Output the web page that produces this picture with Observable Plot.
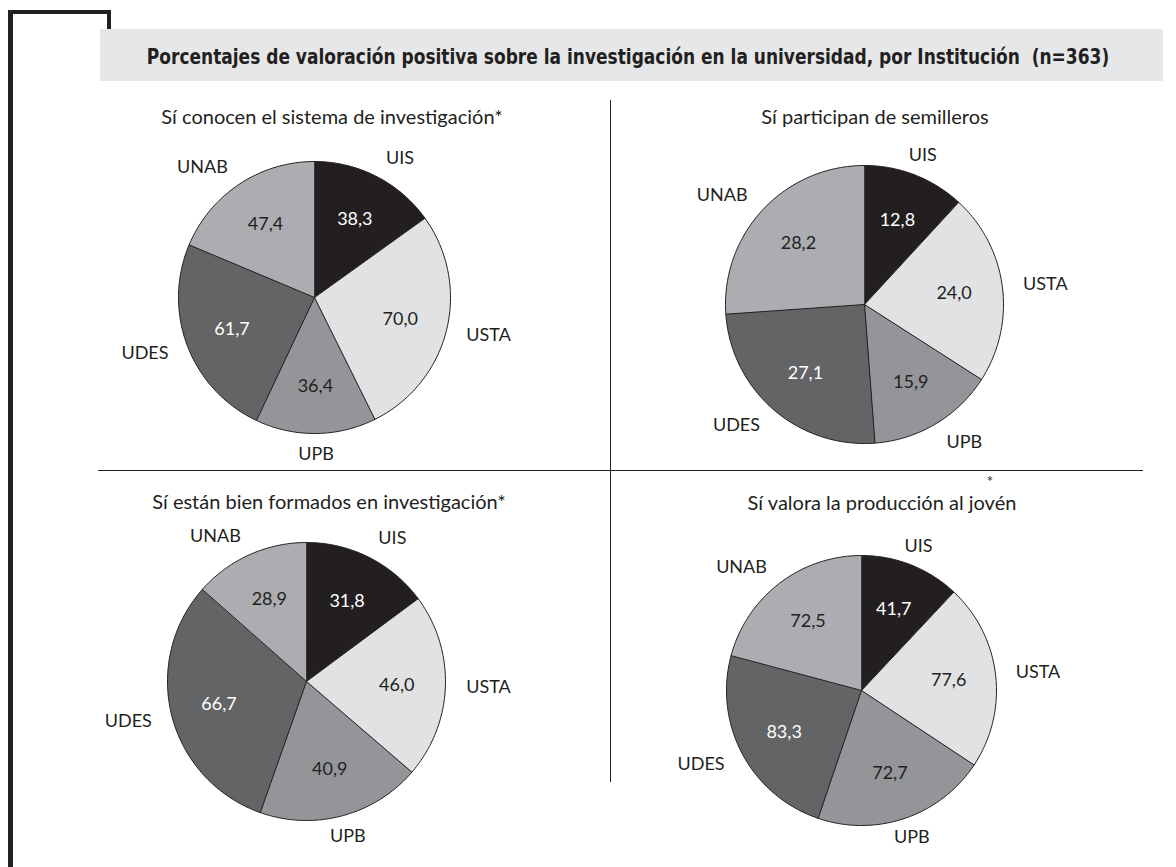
<!DOCTYPE html>
<html><head><meta charset="utf-8">
<script src="https://cdn.jsdelivr.net/npm/d3@7"></script>
<script src="https://cdn.jsdelivr.net/npm/@observablehq/plot@0.6"></script>
<style>
body{margin:0;background:#fff;}
#page{position:relative;width:1176px;height:867px;overflow:hidden;font-family:Lato,"Open Sans",sans-serif;color:#231f20;}
.ln{position:absolute;background:#231f20;}
.sub{position:absolute;font-size:20px;transform:translate(-50%,-50%);white-space:nowrap;line-height:1;}
#title{position:absolute;left:100px;top:29px;width:1063px;height:52px;background:#e6e7e8;}
#title span{position:absolute;left:528px;top:28px;transform:translate(-50%,-50%) scaleX(0.86);white-space:pre;
  font-family:"Liberation Sans Narrow","DejaVu Sans Condensed",sans-serif;font-weight:bold;font-size:22px;line-height:1;color:#231f20;}
</style></head><body><div id="page"></div>
<script>
const institutions = ["UIS", "USTA", "UPB", "UDES", "UNAB"];
const conocenSistema = [38.3, 70.0, 36.4, 61.7, 47.4];
const participanSemilleros = [12.8, 24.0, 15.9, 27.1, 28.2];
const bienFormados = [31.8, 46.0, 40.9, 66.7, 28.9];
const valoraProduccion = [41.7, 77.6, 72.7, 83.3, 72.5];
const panelTitles = [
  "Sí conocen el sistema de investigación*",
  "Sí participan de semilleros",
  "Sí están bien formados en investigación*",
  "Sí valora la producción al jovén"
];
const mainTitle = "Porcentajes de valoración positiva sobre la investigación en la universidad, por Institución  (n=363)";
const sliceColors = ["#231f20", "#e1e2e3", "#939598", "#636466", "#abadb0"];
const lightText = ["UIS", "UDES"];

const page = document.getElementById("page");
function addDiv(cls, css, text) {
  const d = document.createElement("div");
  if (cls) d.className = cls;
  Object.assign(d.style, css);
  if (text != null) d.textContent = text;
  page.appendChild(d);
  return d;
}
// frame
addDiv("ln", {left: "8px", top: "10px", width: "4.5px", height: "857px"});
addDiv("ln", {left: "8px", top: "10px", width: "102px", height: "3.5px"});
addDiv("ln", {left: "106.5px", top: "10px", width: "4px", height: "20px"});
const t = addDiv(null, {});
t.id = "title";
const ts = document.createElement("span"); ts.textContent = mainTitle; t.appendChild(ts);
// dividers
addDiv("ln", {left: "610px", top: "100px", width: "1px", height: "682px"});
addDiv("ln", {left: "98px", top: "470px", width: "1045px", height: "1px"});

const panels = [
  {values: conocenSistema, title: panelTitles[0], cx: 314, cy: 297, r: 136, tx: 332, ty: 116},
  {values: participanSemilleros, title: panelTitles[1], cx: 864, cy: 304, r: 139, tx: 875, ty: 116},
  {values: bienFormados, title: panelTitles[2], cx: 306, cy: 681, r: 139, tx: 329, ty: 501},
  {values: valoraProduccion, title: panelTitles[3], cx: 861, cy: 690, r: 135, tx: 882, ty: 502, star: true}
];

const HW = 240, HH = 180;
const fmt = v => v.toFixed(1).replace(".", ",");

for (const p of panels) {
  addDiv("sub", {left: p.tx + "px", top: p.ty + "px"}, p.title);
  if (p.star) addDiv("sub", {left: (p.tx + 108) + "px", top: (p.ty - 21) + "px", fontSize: "15px", lineHeight: "0.6"}, "*");

  const total = d3.sum(p.values);
  let acc = 0;
  const slices = institutions.map((inst, i) => {
    const a0 = acc / total * 360; acc += p.values[i]; const a1 = acc / total * 360;
    const mid = (a0 + a1) / 2 * Math.PI / 180;
    return {inst, value: p.values[i], a0, a1, sx: Math.sin(mid), sy: Math.cos(mid)};
  });
  const pts = [];
  for (const s of slices) {
    pts.push({inst: s.inst, x: 0, y: 0});
    const n = Math.max(2, Math.ceil(s.a1 - s.a0));
    for (let k = 0; k <= n; k++) {
      const a = (s.a0 + (s.a1 - s.a0) * k / n) * Math.PI / 180;
      pts.push({inst: s.inst, x: Math.sin(a), y: Math.cos(a)});
    }
  }
  const ro = 1.15, ri = 0.65;
  const nameMark = (filter, anchor) => Plot.text(slices.filter(filter), {
    x: d => d.sx * ro, y: d => d.sy * ro, text: "inst", textAnchor: anchor,
    fontSize: 18, fontFamily: "Lato", fill: "#231f20"
  });
  const svg = Plot.plot({
    width: 2 * HW, height: 2 * HH, margin: 0,
    x: {domain: [-HW / p.r, HW / p.r], axis: null},
    y: {domain: [-HH / p.r, HH / p.r], axis: null},
    color: {domain: institutions, range: sliceColors},
    marks: [
      Plot.line(pts, {x: "x", y: "y", z: "inst", fill: "inst", stroke: "#231f20", strokeWidth: 1, curve: "linear-closed", strokeLinejoin: "miter"}),
      Plot.text(slices, {
        x: d => d.sx * ri, y: d => d.sy * ri, text: d => fmt(d.value),
        fill: d => lightText.includes(d.inst) ? "#ffffff" : "#231f20",
        fontSize: 18, fontFamily: "Lato"
      }),
      nameMark(d => d.sx > 0.4, "start"),
      nameMark(d => d.sx < -0.4, "end"),
      nameMark(d => Math.abs(d.sx) <= 0.4, "middle")
    ]
  });
  Object.assign(svg.style, {position: "absolute", left: (p.cx - HW) + "px", top: (p.cy - HH) + "px", background: "transparent", overflow: "visible", maxWidth: "none"});
  page.appendChild(svg);
}
</script></body></html>
